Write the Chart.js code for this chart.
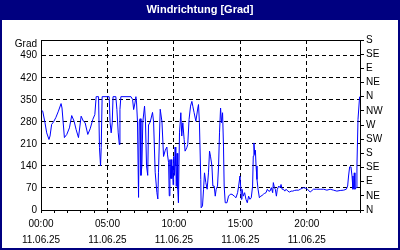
<!DOCTYPE html>
<html>
<head>
<meta charset="utf-8">
<script src="https://cdn.jsdelivr.net/npm/chart.js@4"></script>
<style>
  html, body { margin: 0; padding: 0; background: #fff; }
  canvas { display: block; }
</style>
</head>
<body>
<canvas id="chart" width="400" height="250"></canvas>
<script>
// hours since 00:00 on 11.06.25
const hours = [
  0.05, 0.13, 0.30, 0.43, 0.60, 0.68, 0.80, 0.93, 1.11, 1.31, 1.51, 1.58, 1.76, 1.94, 2.14, 2.31,
  2.49, 2.64, 2.82, 3.02, 3.19, 3.32, 3.52, 3.70, 3.90, 4.05, 4.15, 4.33, 4.40, 4.48, 4.53, 4.60,
  5.13, 5.20, 5.28, 5.36, 5.42, 5.63, 5.71, 5.81, 5.89, 5.94, 6.01, 6.77, 6.89, 6.97, 7.07, 7.14,
  7.19, 7.26, 7.34, 7.39, 7.46, 7.52, 7.59, 7.66, 7.79, 7.86, 7.94, 8.03, 8.09, 8.22, 8.39, 8.47,
  8.59, 8.72, 8.79, 8.84, 8.97, 9.10, 9.22, 9.35, 9.47, 9.52, 9.60, 9.65, 9.70, 9.75, 9.79, 9.84,
  9.89, 9.94, 9.98, 10.04, 10.09, 10.14, 10.18, 10.24, 10.29, 10.34, 10.42, 10.52, 10.59, 10.67, 10.77, 10.84,
  10.97, 11.04, 11.14, 11.25, 11.35, 11.42, 11.52, 11.65, 11.80, 11.85, 11.92, 12.02, 12.05, 12.15, 12.23, 12.30,
  12.40, 12.50, 12.60, 12.68, 12.75, 12.86, 12.93, 13.03, 13.11, 13.18, 13.28, 13.36, 13.43, 13.51, 13.58, 13.66,
  13.73, 13.78, 13.86, 13.99, 14.11, 14.24, 14.37, 14.42, 14.54, 14.67, 14.79, 14.87, 14.97, 15.02, 15.07, 15.12,
  15.22, 15.32, 15.42, 15.52, 15.62, 15.72, 15.82, 15.92, 15.97, 16.02, 16.08, 16.13, 16.18, 16.25, 16.33, 16.43,
  16.53, 16.63, 16.73, 16.83, 16.93, 17.03, 17.13, 17.23, 17.33, 17.43, 17.48, 17.56, 17.63, 17.71, 17.78, 17.89,
  17.99, 18.06, 18.14, 18.24, 18.34, 18.44, 18.57, 18.69, 18.82, 18.94, 19.07, 19.19, 19.39, 19.50, 19.75, 20.00,
  20.25, 20.50, 20.75, 21.00, 21.26, 21.51, 21.76, 22.01, 22.26, 22.51, 22.77, 22.97, 23.07, 23.14, 23.22, 23.32,
  23.40, 23.47, 23.52, 23.57, 23.62, 23.70, 23.77, 23.85, 23.92, 23.97
];
// wind direction in degrees
const degrees = [
  317, 314, 277, 245, 224, 235, 272, 279, 293, 314, 338, 324, 230, 240, 261, 300,
  282, 256, 230, 298, 282, 277, 240, 258, 288, 303, 360, 360, 198, 140, 198, 360,
  360, 277, 245, 277, 360, 360, 319, 245, 208, 319, 360, 360, 351, 319, 340, 360,
  340, 280, 40, 280, 290, 110, 140, 280, 330, 280, 140, 110, 270, 280, 310, 280,
  120, 55, 35, 120, 320, 280, 170, 190, 200, 175, 150, 45, 160, 100, 160, 100,
  140, 80, 170, 110, 200, 140, 75, 180, 66, 23, 245, 309, 235, 277, 224, 187,
  198, 208, 288, 330, 345, 330, 309, 282, 324, 335, 277, 97, 7, 13, 66, 118,
  87, 66, 118, 187, 171, 140, 76, 76, 44, 66, 76, 140, 245, 324, 277, 309,
  203, 76, 23, 23, 44, 50, 50, 50, 44, 39, 55, 76, 108, 76, 34, 66,
  44, 55, 34, 23, 44, 34, 39, 76, 171, 213, 176, 190, 140, 97, 66, 39,
  44, 46, 50, 53, 55, 66, 60, 60, 71, 55, 87, 71, 66, 44, 66, 76,
  71, 81, 66, 66, 60, 66, 60, 57, 60, 60, 62, 63, 63, 66, 71, 68,
  57, 66, 66, 66, 66, 63, 66, 63, 60, 62, 63, 66, 76, 108, 137, 137,
  108, 66, 76, 118, 66, 71, 140, 288, 288, 360
];
const leftTicks = [0, 70, 140, 210, 280, 350, 420, 490];
const compass = ["N", "NE", "E", "SE", "S", "SW", "W", "NW", "N", "NE", "E", "SE", "S"];
const dateLabel = "11.06.25";
const unitLabel = "Grad";

const FONT = "'Liberation Sans', Arial, sans-serif";
const NAVY = "#000080";
const NONE = "rgba(0,0,0,0)";

const frame = {
  id: "frame",
  beforeDraw(chart) {
    const { ctx, width, height } = chart;
    ctx.save();
    ctx.fillStyle = "#fff";
    ctx.fillRect(0, 0, width, height);
    ctx.fillStyle = NAVY;
    ctx.fillRect(0, 0, width, 20);
    ctx.fillRect(0, 0, 2, height);
    ctx.fillRect(width - 2, 0, 2, height);
    ctx.fillRect(0, height - 2, width, 2);
    ctx.restore();
  },
  afterDraw(chart) {
    const { ctx, chartArea: a } = chart;
    ctx.save();
    ctx.strokeStyle = "#000";
    ctx.lineWidth = 1;
    ctx.beginPath();
    ctx.moveTo(Math.round(a.left), Math.round(a.top) + 0.5);
    ctx.lineTo(Math.round(a.right) + 1, Math.round(a.top) + 0.5);
    ctx.stroke();
    ctx.restore();
  }
};

const pad2 = n => String(n).padStart(2, "0");

new Chart(document.getElementById("chart"), {
  type: "line",
  data: {
    datasets: [{
      data: hours.map((h, i) => ({ x: h, y: degrees[i] })),
      borderColor: "#0000ff",
      borderWidth: 1,
      pointRadius: 0,
      tension: 0,
      fill: false
    }]
  },
  options: {
    responsive: false,
    animation: false,
    layout: { padding: { left: 2, right: 2, top: 0, bottom: 2 } },
    plugins: {
      legend: { display: false },
      tooltip: { enabled: false },
      title: {
        display: true,
        text: "Windrichtung [Grad]",
        color: "#fff",
        font: { family: FONT, size: 11, weight: "bold", lineHeight: 1.2 },
        padding: { top: 3, bottom: 23.8 }
      }
    },
    scales: {
      x: {
        type: "linear",
        min: 0,
        max: 24,
        afterFit: s => { s.height = 38; },
        ticks: {
          stepSize: 1,
          autoSkip: false,
          maxRotation: 0,
          padding: 3,
          color: "#000",
          font: { family: FONT, size: 10, lineHeight: 1.6 },
          callback: v => (v % 5 === 0 ? [pad2(v) + ":00", dateLabel] : "")
        },
        grid: {
          color: c => (c.tick && c.tick.value % 5 === 0 && c.tick.value > 0 && c.tick.value < 24 ? "#000" : NONE),
          tickColor: "#000",
          tickLength: 3
        },
        border: { color: "#000", dash: [4, 3] }
      },
      y: {
        type: "linear",
        position: "left",
        min: 0,
        max: 540,
        afterFit: s => { s.width = 39; },
        afterBuildTicks: s => { s.ticks = leftTicks.concat([525]).map(v => ({ value: v })); },
        ticks: {
          autoSkip: false,
          padding: 4,
          color: "#000",
          font: { family: FONT, size: 10 },
          callback: v => (v === 525 ? unitLabel : v)
        },
        grid: {
          drawTicks: false,
          color: c => (c.tick && c.tick.value > 0 && c.tick.value <= 490 ? "#000" : NONE)
        },
        border: { color: "#000", dash: [4, 3] }
      },
      y2: {
        type: "linear",
        position: "right",
        min: 0,
        max: 540,
        afterFit: s => { s.width = 38; },
        afterBuildTicks: s => { s.ticks = compass.map((_, i) => ({ value: i * 45 })); },
        ticks: {
          autoSkip: false,
          padding: 2,
          color: "#000",
          font: { family: FONT, size: 10 },
          callback: v => compass[Math.round(v / 45)]
        },
        grid: { drawOnChartArea: false, color: "#000", tickLength: 4 },
        border: { color: "#000" }
      }
    }
  },
  plugins: [frame]
});
</script>
</body>
</html>
